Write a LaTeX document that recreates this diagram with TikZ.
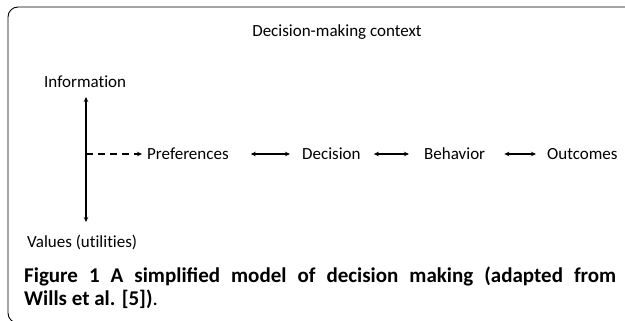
\documentclass[tikz,border=0pt]{standalone}
\usepackage{fontspec}
\setmainfont{Carlito}
\newfontfamily\lblfont[Ligatures=CommonOff]{Carlito}
\usetikzlibrary{arrows.meta}
\begin{document}
\begin{tikzpicture}[x=1pt,y=-1pt,
  lbl/.style={inner sep=0pt,font=\lblfont\fontsize{17}{20}\selectfont},
  captext/.style={inner sep=0pt,font=\bfseries\fontsize{21}{24}\selectfont},
  framebox/.style={line width=0.9pt,rounded corners=10pt},
  arr/.style={line width=1.1pt,{Stealth[length=5pt,width=4.5pt]}-{Stealth[length=5pt,width=4.5pt]}},
  darr/.style={line width=1.1pt,dash pattern=on 7pt off 5pt,-{Stealth[length=5pt,width=4.5pt]}}]
\useasboundingbox (0,0) rectangle (625,321);
\draw[framebox] (640,7) -- (8,7) -- (8,323) -- (640,323);
\node[lbl] (ctx) at (337,32) {Decision-making context};
\node[lbl,anchor=west] (info) at (44,82) {Information};
\node[lbl,anchor=west] (val) at (27,242) {Values (utilities)};
\coordinate (vt) at (86,97);
\coordinate (vb) at (86,222);
\coordinate (vm) at (86,154);
\draw[arr] (vb) -- (vt);
\node[lbl,anchor=west] (pref) at (147,154) {Preferences};
\node[lbl,anchor=west] (dec) at (302,154) {Decision};
\node[lbl,anchor=west] (beh) at (424,154) {Behavior};
\node[lbl,anchor=west] (out) at (547,154) {Outcomes};
\draw[darr] (vm) -- ([xshift=-5pt]pref.west);
\draw[arr] ([xshift=22pt]pref.east) -- ([xshift=-12pt]dec.west);
\draw[arr] ([xshift=13pt]dec.east) -- ([xshift=-15pt]beh.west);
\draw[arr] ([xshift=19pt]beh.east) -- ([xshift=-11pt]out.west);
\node[captext,anchor=base west] (c1) at (24,282) {\makebox[592pt][s]{Figure 1 A simplified model of decision making (adapted from}};
\node[captext,anchor=base west] (c2) at (24,305) {Wills et al. [5])\textmd{.}};
\end{tikzpicture}
\end{document}
